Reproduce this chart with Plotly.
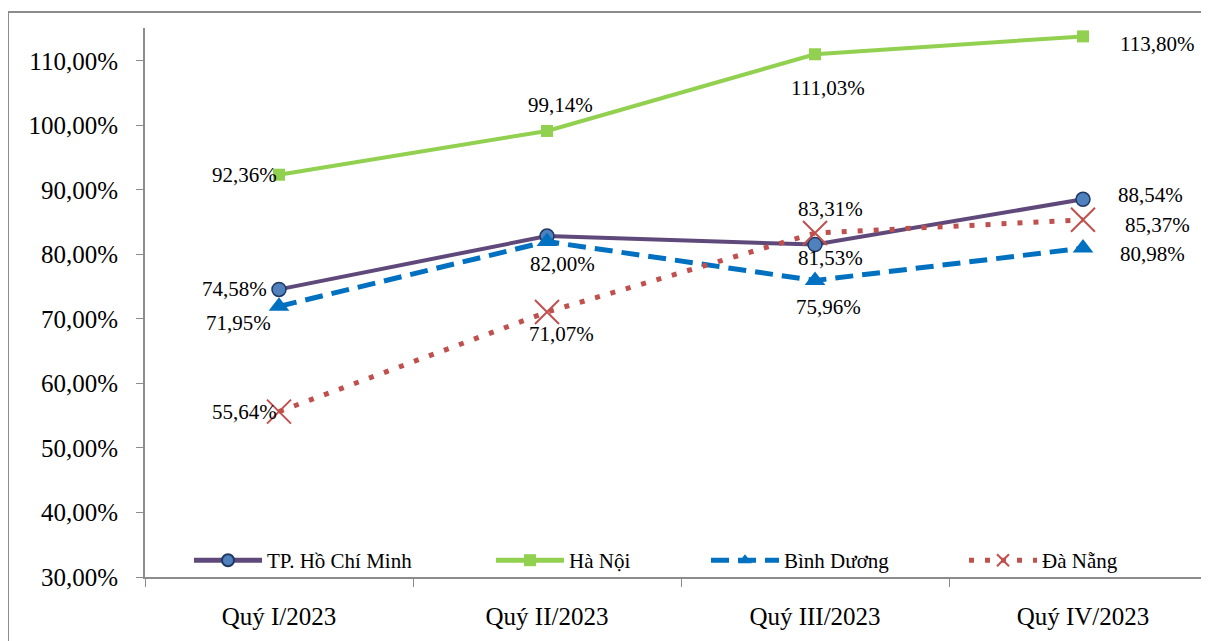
import plotly.graph_objects as go

quarters = ["Quý I/2023", "Quý II/2023", "Quý III/2023", "Quý IV/2023"]

hcm = [74.58, 82.85, 81.53, 88.54]
hanoi = [92.36, 99.14, 111.03, 113.80]
binhduong = [71.95, 82.00, 75.96, 80.98]
danang = [55.64, 71.07, 83.31, 85.37]

y_ticks = [30, 40, 50, 60, 70, 80, 90, 100, 110]

FONT = "Liberation Serif"

# plot area in page pixels (page body adds an 8px offset)
ML, MT, MB = 137, 20, 72
PW = 1209 - ML


def pct(v):
    return f"{v:.2f}%".replace(".", ",")


fig = go.Figure()

fig.add_trace(go.Scatter(
    x=quarters, y=hcm, mode="lines+markers", name="TP. Hồ Chí Minh",
    legend="legend",
    line=dict(color="#5F497A", width=4),
    marker=dict(symbol="circle", size=14, color="#4F81BD",
                line=dict(color="#1F3864", width=1.5)),
))
fig.add_trace(go.Scatter(
    x=quarters, y=hanoi, mode="lines+markers", name="Hà Nội",
    legend="legend2",
    line=dict(color="#92D050", width=4),
    marker=dict(symbol="square", size=12, color="#92D050"),
))
fig.add_trace(go.Scatter(
    x=quarters, y=binhduong, mode="lines+markers", name="Bình Dương",
    legend="legend3",
    line=dict(color="#0070C0", width=5, dash="18px,9px"),
    marker=dict(symbol="triangle-up", size=18, color="#0070C0"),
))
fig.add_trace(go.Scatter(
    x=quarters, y=danang, mode="lines+markers", name="Đà Nẵng",
    legend="legend4",
    line=dict(color="#C0504D", width=5, dash="5px,11px"),
    marker=dict(symbol="x-thin-open", size=24,
                line=dict(color="#C00000", width=2)),
))

# data label placement: (series, index, xanchor, xshift, yshift)
label_spec = [
    (hcm, 0, "right", -10, 0),
    (hcm, 2, "center", 15, -13),
    (hcm, 3, "left", 33, 4),
    (hanoi, 0, "right", 0, 0),
    (hanoi, 1, "center", 13, 26),
    (hanoi, 2, "center", 13, -34),
    (hanoi, 3, "left", 35, -8),
    (binhduong, 0, "right", -6, -17),
    (binhduong, 1, "center", 15, -22),
    (binhduong, 2, "center", 13, -26),
    (binhduong, 3, "left", 35, -6),
    (danang, 0, "right", 0, 0),
    (danang, 1, "center", 14, -22),
    (danang, 2, "center", 15, 24),
    (danang, 3, "left", 40, -5),
]
annotations = []
for series, i, xa, xs, ys in label_spec:
    annotations.append(dict(
        x=quarters[i], y=series[i], text=pct(series[i]), showarrow=False,
        xanchor=xa, yanchor="middle", xshift=xs, yshift=ys,
        font=dict(family=FONT, size=21, color="black"),
    ))


def legend_box(px):
    return dict(
        orientation="h", x=(px - 145) / PW, y=0.03,
        xanchor="left", yanchor="middle", itemwidth=68,
        itemsizing="constant",
        font=dict(family=FONT, size=21, color="black"),
        bgcolor="rgba(0,0,0,0)",
    )


fig.update_layout(
    width=1209, height=641,
    margin=dict(l=ML, r=0, t=MT, b=MB, autoexpand=False),
    plot_bgcolor="white", paper_bgcolor="white",
    font=dict(family=FONT, color="black"),
    annotations=annotations,
    showlegend=True,
    shapes=[dict(type="rect", xref="paper", yref="paper",
                 x0=-ML / PW, x1=1.02, y0=-0.2, y1=1.029,
                 line=dict(color="#8C8C8C", width=2), layer="below")],
    legend=legend_box(189),
    legend2=legend_box(491),
    legend3=legend_box(706),
    legend4=legend_box(964),
    xaxis=dict(
        type="category", range=[-0.5, 3.5], automargin=False,
        showline=True, linecolor="#8C8C8C", linewidth=2,
        ticks="outside", tickson="boundaries", ticklen=8, tickcolor="#8C8C8C",
        tickfont=dict(family=FONT, size=25), ticklabelstandoff=16,
        showgrid=False, zeroline=False,
    ),
    yaxis=dict(
        range=[30, 115.1], tickvals=y_ticks, automargin=False,
        ticktext=[pct(v) for v in y_ticks],
        showline=True, linecolor="#8C8C8C", linewidth=2,
        ticks="outside", ticklen=7, tickcolor="#8C8C8C",
        tickfont=dict(family=FONT, size=25), ticklabelstandoff=13,
        showgrid=False, zeroline=False,
    ),
)

fig.write_html("out.html")
